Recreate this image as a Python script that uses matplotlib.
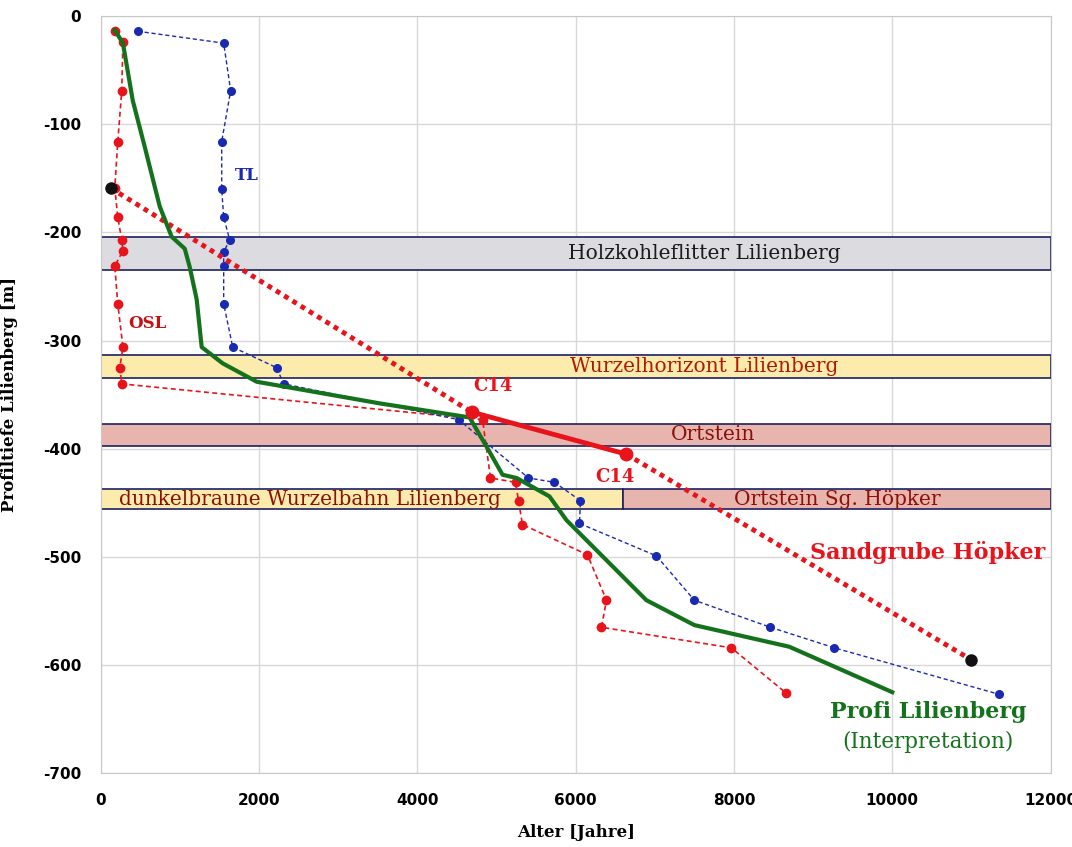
import matplotlib.pyplot as plt
from matplotlib.patches import Rectangle

# OSL ages (red, dashed)
osl_age = [177, 280, 265, 215, 177, 215, 265, 280, 177, 215, 280, 240, 265,
           4823, 4924, 5240, 5278, 5328, 6149, 6389, 6326, 7967, 8662]
osl_depth = [-14, -24, -69, -116, -159, -186, -207, -217, -231, -266, -306, -325, -340,
             -373, -427, -431, -448, -470, -498, -540, -565, -584, -626]

# TL ages (blue, dashed)
tl_age = [467, 1553, 1641, 1528, 1528, 1553, 1629, 1553, 1553, 1553, 1667, 2222, 2311,
          4520, 5404, 5732, 6061, 6048, 7020, 7500, 8460, 9268, 11351]
tl_depth = [-14, -25, -69, -116, -160, -186, -207, -218, -231, -266, -306, -325, -340,
            -373, -427, -431, -448, -469, -499, -540, -565, -584, -627]

# interpretation line Profi Lilienberg
profil_age = [177, 280, 404, 556, 745, 896, 1061, 1124, 1212, 1275, 1540, 1970, 3523,
              4659, 4874, 5076, 5253, 5669, 5884, 6389, 6894, 7500, 8699, 10000]
profil_depth = [-13, -25, -78, -121, -176, -204, -215, -232, -262, -306, -321, -338, -358,
                -371, -398, -424, -427, -444, -466, -503, -540, -563, -583, -625]

# Sandgrube Hoepker
hoepker_age = [126, 4684, 6641, 10997]
hoepker_depth = [-159, -366, -405, -595]

# horizons: label, x0, x1, top, bottom, fill, text colour
bands = [
    ("Holzkohleflitter Lilienberg", 0, 12000, -204, -235, "#dcdbe0", "#1a1a1a"),
    ("Wurzelhorizont Lilienberg", 0, 12000, -313, -335, "#fbecae", "#b01808"),
    ("Ortstein", 0, 12000, -377, -397, "#e8b5ae", "#8a1008"),
    ("dunkelbraune Wurzelbahn Lilienberg", 0, 6600, -437, -456, "#fbecae", "#8a1008"),
    ("Ortstein Sg. Höpker", 6600, 12000, -437, -456, "#e8b5ae", "#8a1008"),
]

xticks = [0, 2000, 4000, 6000, 8000, 10000, 12000]
yticks = [0, -100, -200, -300, -400, -500, -600, -700]

fig = plt.figure(figsize=(10.72, 8.47), dpi=100)
ax = fig.add_axes([0.094, 0.087, 0.886, 0.894])
ax.set_xlim(0, 12000)
ax.set_ylim(-700, 0)

label_x = [7630, 7630, 7730, 2640, 9300]
for (lab, x0, x1, top, bot, fc, tc), lx in zip(bands, label_x):
    ax.add_patch(Rectangle((x0, bot), x1 - x0, top - bot, facecolor=fc,
                           edgecolor="#1c2060", linewidth=1.2, zorder=2))
    ax.text(lx, (top + bot) / 2, lab, ha="center", va="center", fontsize=14.5,
            color=tc, family="DejaVu Serif", zorder=3)

red = "#e8141c"
ax.plot(osl_age, osl_depth, color=red, linestyle=(0, (3, 2)), linewidth=1.2,
        marker="o", markersize=6, zorder=4)
ax.plot(tl_age, tl_depth, color="#1a2ab0", linestyle=(0, (3, 2)), linewidth=1.0,
        marker="o", markersize=5.5, zorder=4)
ax.plot(profil_age, profil_depth, color="#15721c", linewidth=3, zorder=5)

ax.plot(hoepker_age[:2], hoepker_depth[:2], color=red, linestyle=(0, (1, 1)),
        linewidth=3.5, zorder=4)
ax.plot(hoepker_age[1:3], hoepker_depth[1:3], color=red, linewidth=3.5, zorder=4)
ax.plot(hoepker_age[2:], hoepker_depth[2:], color=red, linestyle=(0, (1, 1)),
        linewidth=3.5, zorder=4)
ax.plot(hoepker_age[1:3], hoepker_depth[1:3], "o", color=red, markersize=9, zorder=6)
ax.plot([hoepker_age[0], hoepker_age[-1]], [hoepker_depth[0], hoepker_depth[-1]], "o",
        color="#111111", markersize=8, zorder=6)

bold_serif = dict(family="DejaVu Serif", fontweight="bold")
ax.text(1700, -147, "TL", color="#1a2ab0", fontsize=12, va="center", **bold_serif)
ax.text(350, -284, "OSL", color="#c81010", fontsize=12, va="center", **bold_serif)
ax.text(4960, -342, "C14", color=red, fontsize=13, ha="center", va="center", **bold_serif)
ax.text(6500, -426, "C14", color=red, fontsize=13, ha="center", va="center", **bold_serif)
ax.text(10450, -496, "Sandgrube Höpker", color=red, fontsize=16, ha="center",
        va="center", **bold_serif)
ax.text(10450, -643, "Profi Lilienberg", color="#15721c", fontsize=16, ha="center",
        va="center", **bold_serif)
ax.text(10450, -671, "(Interpretation)", color="#15721c", fontsize=15.5, ha="center",
        va="center", family="DejaVu Serif")

ax.set_xticks(xticks)
ax.set_yticks(yticks)
ax.set_xticklabels([str(t) for t in xticks])
ax.set_yticklabels([str(t) for t in yticks])
ax.grid(True, color="#d8d8d8", linewidth=1)
ax.set_axisbelow(True)
for s in ax.spines.values():
    s.set_color("#c8c8c8")
ax.tick_params(length=0, labelsize=11, pad=14)
for lbl in ax.get_xticklabels() + ax.get_yticklabels():
    lbl.set_fontweight("bold")
    lbl.set_family(["Liberation Sans Narrow", "DejaVu Sans"])

ax.set_xlabel("Alter [Jahre]", fontsize=12, fontweight="bold", family="DejaVu Serif",
              labelpad=12)
ax.set_ylabel("Profiltiefe Lilienberg [m]", fontsize=12, fontweight="bold",
              family="DejaVu Serif", labelpad=18)

fig.savefig("out.png", dpi=100)
